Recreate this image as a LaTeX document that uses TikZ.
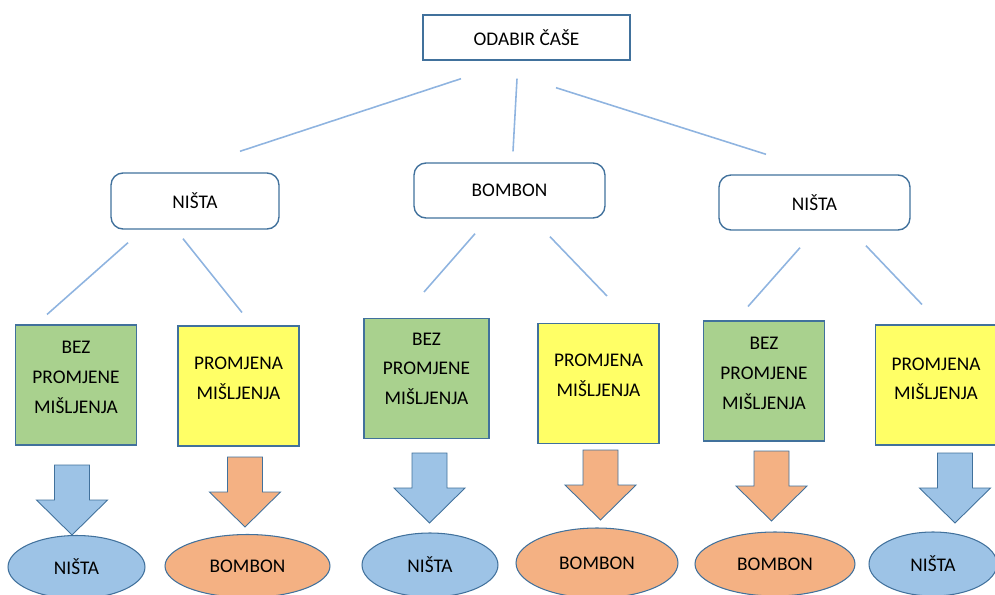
\documentclass[tikz,border=0pt]{standalone}
\usepackage{fontspec}
\setmainfont{Carlito}
\usetikzlibrary{shapes.geometric,calc}

\definecolor{okvir}{HTML}{41719C}
\definecolor{linija}{HTML}{8FB4E0}
\definecolor{zelena}{HTML}{A9D18E}
\definecolor{zuta}{HTML}{FFFF66}
\definecolor{plava}{HTML}{9DC3E6}
\definecolor{narancasta}{HTML}{F4B183}

% blok strelica prema dolje: {x sredine}{y vrha}{boja}
\newcommand{\strelica}[3]{%
  \draw[blok,fill=#3] (#1,#2) ++(-17.5,0) -- ++(35,0) -- ++(0,35) -- ++(18,0)
    -- ++(-35.5,35) -- ++(-35.5,-35) -- ++(18,0) -- cycle;}

\begin{document}
\begin{tikzpicture}[x=0.02cm,y=-0.02cm,
  tekst/.style={font=\fontsize{11}{17}\selectfont,align=center},
  glavni/.style={draw=okvir,line width=0.8pt,fill=white,tekst,minimum width=4.14cm,minimum height=0.9cm},
  izbor/.style={draw=okvir,line width=0.8pt,rounded corners=0.24cm,tekst,minimum width=3.82cm,minimum height=1.1cm},
  kvadrat/.style={draw=okvir,line width=0.6pt,minimum width=2.42cm,minimum height=2.4cm},
  ishod/.style={ellipse,draw=okvir,line width=0.6pt,tekst,minimum height=1.26cm},
  blok/.style={draw=okvir,line width=0.5pt},
  veza/.style={draw=linija,line width=0.9pt}]
		\useasboundingbox (0,0) rectangle (995,595);
		%
		\node[glavni] (odabir) at (526.5,37.5) {ODABIR ČAŠE};
		\node[izbor,minimum width=3.36cm,minimum height=1.12cm] (nista1) at (195,201) {NIŠTA};
		\node[izbor] (bombon) at (509.5,190.5) {BOMBON};
		\node[izbor] (nista2) at (814.5,202.5) {NIŠTA};
		%
		\node[kvadrat,fill=zelena,label={[tekst,yshift=4.5pt]center:BEZ\\PROMJENE\\MIŠLJENJA}] (bez1) at (76,385) {};
		\node[kvadrat,fill=zuta,label={[tekst,yshift=4.5pt]center:PROMJENA\\MIŠLJENJA}] (prom1) at (238.5,386) {};
		\node[kvadrat,fill=zelena,minimum width=2.5cm,label={[tekst,yshift=5.5pt]center:BEZ\\PROMJENE\\MIŠLJENJA}] (bez2) at (426.5,378.5) {};
		\node[kvadrat,fill=zuta,label={[tekst,yshift=4.5pt]center:PROMJENA\\MIŠLJENJA}] (prom2) at (598.5,383.5) {};
		\node[kvadrat,fill=zelena,label={[tekst,yshift=4.5pt]center:BEZ\\PROMJENE\\MIŠLJENJA}] (bez3) at (764,381) {};
		\node[kvadrat,fill=zuta,label={[tekst,yshift=3.5pt]center:PROMJENA\\MIŠLJENJA}] (prom3) at (936,385) {};
		%
		\node[ishod,fill=plava,minimum width=2.74cm] (kraj1) at (76.5,567) {NIŠTA};
		\node[ishod,fill=narancasta,minimum width=3.3cm] (kraj2) at (247.5,566) {BOMBON};
		\node[ishod,fill=plava,minimum width=2.72cm,minimum height=1.28cm] (kraj3) at (430,565) {NIŠTA};
		\node[ishod,fill=narancasta,minimum width=3.24cm,minimum height=1.4cm] (kraj4) at (597,563) {BOMBON};
		\node[ishod,fill=narancasta,minimum width=3.2cm,minimum height=1.28cm] (kraj5) at (775,564) {BOMBON};
		\node[ishod,fill=plava,minimum width=2.56cm,minimum height=1.28cm] (kraj6) at (933,564) {NIŠTA};
		%
		\draw[veza]
		($(odabir.south)+(-65.5,18)$) -- ($(nista1.north)+(45,-21)$)
		($(odabir.south)+(-9.5,18)$) -- ($(bombon.north)+(3.5,-11)$)
		($(odabir.south)+(29.5,27)$) -- ($(nista2.north)+(-48.5,-20)$)
		($(nista1.south)+(-67,13)$) -- ($(bez1.north)+(-29,-10)$)
		($(nista1.south)+(-12,9)$) -- ($(prom1.north)+(3.5,-13)$)
		($(bombon.south)+(-34.5,15)$) -- ($(bez2.north)+(-2.5,-26)$)
		($(bombon.south)+(40.5,18)$) -- ($(prom2.north)+(8.5,-27)$)
		($(nista2.south)+(-14.5,17)$) -- ($(bez3.north)+(-16,-14)$)
		($(nista2.south)+(51.5,15)$) -- ($(prom3.north)+(-14,-20)$);
		%
		\strelica{72}{465}{plava}
		\strelica{245}{457}{narancasta}
		\strelica{429.5}{453}{plava}
		\strelica{600.5}{450}{narancasta}
		\strelica{771.5}{451}{narancasta}
		\strelica{955}{453}{plava}
\end{tikzpicture}
\end{document}
